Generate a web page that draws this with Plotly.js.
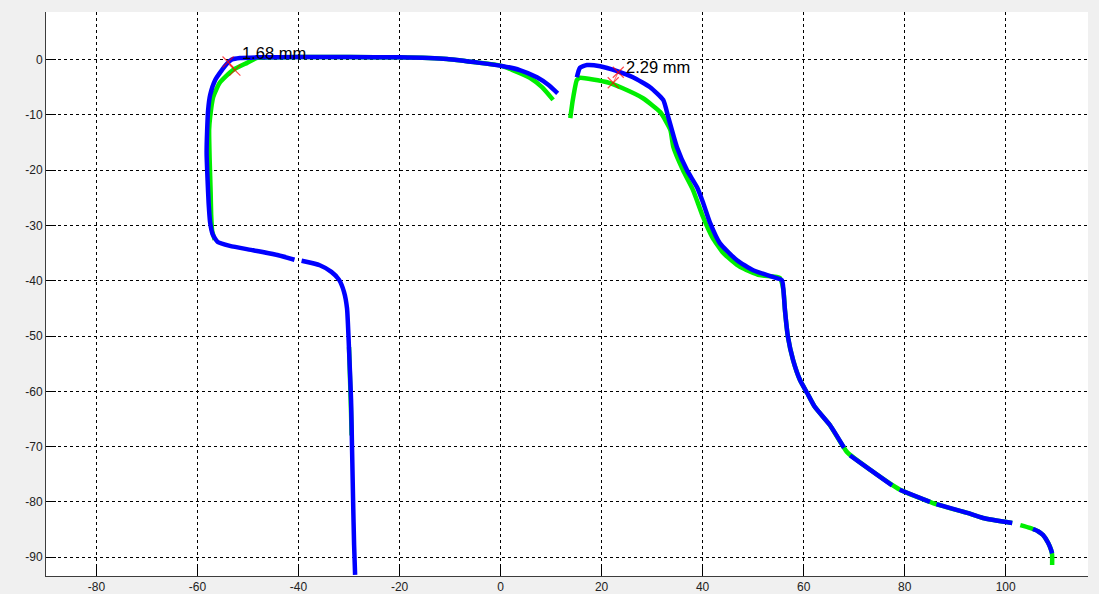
<!DOCTYPE html>
<html>
<head>
<meta charset="utf-8">
<script src="https://cdn.plot.ly/plotly-3.0.1.min.js"></script>
<style>html,body{margin:0;padding:0;background:#f0f0f0;}#chart{width:1099px;height:594px;}</style>
</head>
<body>
<div id="chart"></div>
<script>
// Left profile (blue = measured, green = reference)
const blueLeftX = [11.3, 9.5, 7.2, 3.8, 0.5, -4.1, -10.6, -20, -30, -40, -48, -51.6, -53.2, -54.6, -56.5, -57.5, -57.9, -58.1, -58.2, -58.0, -57.8, -57.5, -57.0, -56.0, -53.6, -49, -44, -40.8, null, -39.4, -35.8, -33.5, -32.0, -31.0, -30.4, -30.0, -29.6, -29.4, -29.2, -29.0, -28.8];
const blueLeftY = [-6.1, -4.6, -3.2, -1.9, -1.2, -0.6, 0.1, 0.4, 0.45, 0.45, 0.4, 0.3, 0.0, -1.2, -3.7, -6.4, -9.1, -13, -17, -22, -26, -29.5, -31.6, -33.0, -33.7, -34.5, -35.4, -36.2, null, -36.4, -37.2, -38.4, -39.8, -42, -45, -52.5, -61.6, -70.6, -79.7, -87.8, -93.2];
const greenLeftX = [10.4, 8.2, 5.8, 2.4, 0, -5, -10.6, -20, -30, -40, -46, -48.2, -50.2, -53.0, -55.6, -56.9, -57.5, -57.7, -57.6, -57.4, -57.3, -57.1, -56.6, null, -30.0, -29.8, -29.6, -29.5];
const greenLeftY = [-7.3, -5.0, -3.3, -1.9, -1.1, -0.5, 0.1, 0.4, 0.45, 0.45, 0.4, 0.3, -0.6, -1.9, -4.2, -6.8, -10.4, -12.7, -18, -24, -28, -31, -32.6, null, -52, -58, -64, -68];

// Right profile
const blueRightX = [15.1, 15.7, 17.1, 19.7, 23.1, 26.2, 29.6, 32.2, 33.2, 34.9, 36.9, 38.9, 40.1, 41.5, 43.4, 46.8, 50.0, 53.9, 55.7, 56.0, 56.3, 56.9, 57.9, 59.3, 60.7, 62.2, 65.2, 68.0, null, 69.2, 73.2, 77.5, null, 79.0, 85.0, null, 86.3, 92.4, 95.5, 101.3, null, 105.4, 106.4, 107.4, 108.4, 109.0, 109.2];
const blueRightY = [-3.2, -1.5, -1.0, -1.2, -2.1, -3.2, -5.0, -7.3, -10.4, -15.8, -20.0, -23.1, -25.9, -29.6, -33.2, -36.3, -38.1, -39.3, -39.9, -41.7, -45.3, -50.2, -54.3, -58.0, -60.3, -62.8, -66.1, -70.2, null, -71.6, -74.2, -77.0, null, -77.8, -80.0, null, -80.4, -82.0, -82.9, -83.8, null, -84.9, -85.3, -86.0, -87.4, -88.7, -89.3];
const greenRightX = [13.8, 14.3, 15.1, 15.7, 21.1, 24.2, 28.2, 31.6, 33.6, 34.2, 36.1, 38.1, 40.1, 41.9, 44.1, 47.4, 51.3, 55.3, 56.0, 56.3, 56.9, 57.9, 59.3, 60.7, 62.2, 65.2, 68.6, 73.2, 79.1, 85.6, 92.4, 95.5, 101.3, null, 102.9, 104.8, 105.4, 106.4, 107.4, 108.4, 109.0, 109.2, 109.2];
const greenRightY = [-10.6, -7.3, -3.7, -3.3, -4.1, -5.2, -7.0, -9.5, -12.7, -15.8, -20.0, -23.6, -28.5, -32.1, -35.0, -37.5, -39.0, -39.5, -41.7, -45.3, -50.2, -54.3, -58.0, -60.3, -62.8, -66.1, -71.0, -74.2, -77.8, -80.2, -82.0, -82.9, -83.8, null, -84.2, -84.7, -84.9, -85.3, -86.0, -87.4, -88.7, -89.6, -91.4];

// Measurement markers and labels
const measure1X = [-53.96, -52.6];
const measure1Y = [-0.45, -1.9];
const measure2X = [23.3, 22.3];
const measure2Y = [-2.3, -4.2];
const labelText = ['1.68 mm', '2.29 mm'];
const labelX = [-51.6, 24.4];
const labelY = [1.2, -1.4];

const xTicks = [-80, -60, -40, -20, 0, 20, 40, 60, 80, 100];
const yTicks = [0, -10, -20, -30, -40, -50, -60, -70, -80, -90];

const lineStyle = (c) => ({color: c, width: 4.5, shape: 'spline', smoothing: 0.5});
const traces = [
  {x: greenLeftX, y: greenLeftY, mode: 'lines', line: lineStyle('#00ee00'), connectgaps: false},
  {x: greenRightX, y: greenRightY, mode: 'lines', line: lineStyle('#00ee00'), connectgaps: false},
  {x: blueLeftX, y: blueLeftY, mode: 'lines', line: lineStyle('#0000ff'), connectgaps: false},
  {x: blueRightX, y: blueRightY, mode: 'lines', line: lineStyle('#0000ff'), connectgaps: false},
  {x: measure1X, y: measure1Y, mode: 'lines+markers', line: {color: 'rgba(255,0,0,0.6)', width: 1},
   marker: {symbol: 'x-thin-open', size: 11, color: 'rgba(255,0,0,0.7)', line: {color: 'rgba(255,0,0,0.7)', width: 1.2}}},
  {x: measure2X, y: measure2Y, mode: 'lines+markers', line: {color: 'rgba(255,0,0,0.6)', width: 1},
   marker: {symbol: 'x-thin-open', size: 11, color: 'rgba(255,0,0,0.7)', line: {color: 'rgba(255,0,0,0.7)', width: 1.2}}}
];

const annotations = labelText.map((t, i) => ({
  x: labelX[i], y: labelY[i], xref: 'x', yref: 'y', text: t, showarrow: false,
  xanchor: 'left', yanchor: 'middle', font: {family: 'Liberation Sans, Arial, sans-serif', size: 16.5, color: '#000'}
}));

const axisCommon = {
  showline: true, linecolor: '#3c3c3c', linewidth: 1, mirror: false,
  ticks: 'inside', ticklen: 10, tickcolor: '#000', tickwidth: 1,
  showgrid: true, gridcolor: '#000', gridwidth: 1, griddash: '3px,3px',
  zeroline: false, tickfont: {family: 'Liberation Sans, Arial, sans-serif', size: 12, color: '#222'}
};

const layout = {
  width: 1099, height: 594,
  paper_bgcolor: '#f0f0f0', plot_bgcolor: '#ffffff',
  margin: {l: 46, r: 11, t: 12, b: 18},
  showlegend: false,
  xaxis: Object.assign({}, axisCommon, {range: [-90, 116.3], tickvals: xTicks, ticktext: xTicks.map(String), ticklabelstandoff: 0}),
  yaxis: Object.assign({}, axisCommon, {range: [-93.4, 8.6], tickvals: yTicks, ticktext: yTicks.map(String)}),
  annotations: annotations
};

Plotly.newPlot('chart', traces, layout, {displayModeBar: false, staticPlot: true});
</script>
</body>
</html>
